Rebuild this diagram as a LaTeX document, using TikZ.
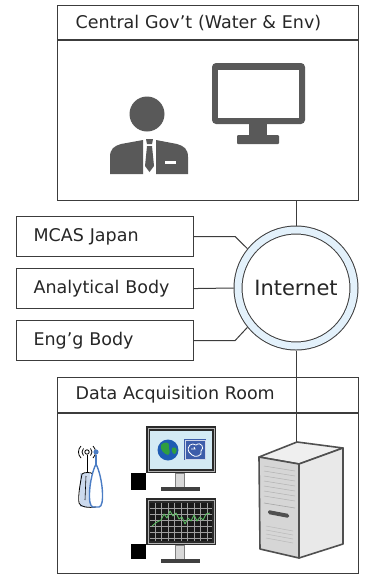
\documentclass[tikz,border=0pt]{standalone}
\usepackage{fontspec}
\setmainfont{DejaVu Sans}
\definecolor{linegray}{HTML}{3C3C3C}
\definecolor{textgray}{HTML}{262626}
\definecolor{ringblue}{HTML}{E3F1FB}
\definecolor{icongray}{HTML}{595959}
\definecolor{framedark}{HTML}{2A2A2A}
\definecolor{screenblue}{HTML}{D3EAF4}
\definecolor{globeblue}{HTML}{1E5CB3}
\definecolor{globegreen}{HTML}{2F9E3F}
\definecolor{tileblue}{HTML}{3D5DAA}
\definecolor{standgray}{HTML}{D8D8D8}
\definecolor{plotgreen}{HTML}{5DBB63}
\definecolor{antblue}{HTML}{4A7CC4}
\definecolor{antback}{HTML}{CCDAEE}
\definecolor{towertop}{HTML}{EFEFEF}
\definecolor{towerfront}{HTML}{D6D6D6}
\definecolor{towerside}{HTML}{E9E9E9}
\definecolor{toweredge}{HTML}{505050}
\begin{document}
\begin{tikzpicture}[x=1pt,y=-1pt,
  txt/.style={text=textgray,font=\fontsize{17.5}{21}\selectfont},
  headbox/.style={draw=linegray,line width=1.2pt,minimum width=301pt,minimum height=34pt,
     inner xsep=18pt,inner ysep=0pt,text width=265pt,align=left,anchor=north west,txt},
  bodybox/.style={draw=linegray,line width=1.2pt,minimum width=301pt,anchor=north west,inner sep=0pt},
  sidebox/.style={draw=linegray,line width=1.1pt,minimum width=177pt,minimum height=40pt,
     inner xsep=17pt,inner ysep=0pt,text width=143pt,align=left,anchor=north west,txt},
  wire/.style={draw=linegray,line width=1pt},
  cloud/.style={circle,draw=linegray,line width=1pt,double=ringblue,double distance=7pt,
     minimum size=116pt,inner sep=0pt,outer sep=4.5pt,text=textgray,font=\fontsize{21}{25}\selectfont}
]
\useasboundingbox (0,0) rectangle (366,574);

% ---------- central government office ----------
\node[headbox] (govhead) at (57,5) {Central Gov’t (Water \& Env)};
\node[bodybox,minimum height=160pt] (gov) at (govhead.south west) {};

% officer
\begin{scope}[fill=icongray]
  \fill (147,114) circle (17.5);
  \fill (143,140) -- (143,174) -- (110,174) -- (110,157) .. controls (110,149) and (114,146) .. (121,144) -- cycle;
  \fill (156,140) -- (156,174) -- (188,174) -- (188,157) .. controls (188,149) and (184,146) .. (177,144) -- cycle;
  \fill (146,139) -- (153,139) -- (152,144) -- (147,144) -- cycle;
  \fill (147,146) -- (152,146) -- (154,166) -- (149.5,172) -- (145,166) -- cycle;
\end{scope}
\fill[white] (165,160.5) rectangle (176,163.5);

% desktop display
\fill[icongray,rounded corners=4pt] (212,63) rectangle (305,124);
\fill[white] (218,70) rectangle (299,118);
\fill[icongray] (249,123) rectangle (267,136);
\fill[icongray,rounded corners=1pt] (237,135) rectangle (279,144);

% ---------- network ----------
\node[cloud] (net) at (296,288) {Internet};

\node[sidebox] (mcas) at (16,216) {MCAS Japan};
\node[sidebox] (ana)  at (16,268) {Analytical Body};
\node[sidebox] (eng)  at (16,320) {Eng’g Body};

\draw[wire] (mcas.east) -- ++(41,0) -- (net.141);
\draw[wire] (ana.east) -- (net.west);
\draw[wire] (eng.east) -- ++(41,0) -- (net.-141);

% ---------- data acquisition room ----------
\node[headbox,minimum height=35pt] (roomhead) at (57,377) {Data Acquisition Room};
\node[bodybox,minimum height=160pt] (room) at (roomhead.south west) {};

\coordinate (srvtop) at (296,442);
\draw[wire] (net.north |- gov.south) -- (net.north);
\draw[wire] (net.south) -- (srvtop);

% server tower
\begin{scope}[draw=toweredge,line width=1.6pt,line join=round]
  \filldraw[fill=towertop] (259,457) -- (297,442) -- (343,448) -- (299,464) -- cycle;
  \filldraw[fill=towerfront] (259,457) -- (299,464) -- (299,558) -- (260,549) -- cycle;
  \filldraw[fill=towerside] (299,464) -- (343,448) -- (343,544) -- (299,558) -- cycle;
\end{scope}
\foreach \k in {0,...,6}
  \draw[gray!60,line width=0.5pt] (264,{466+5*\k}) -- (295,{471+5*\k});
\draw[gray!70,line width=0.6pt] (264,503) -- (295,508);
\fill[toweredge,rounded corners=1.5pt] (268,510) -- (289,514) -- (289,518) -- (268,514) -- cycle;
\foreach \k in {0,...,3}
  \draw[gray!55,line width=0.5pt] (266,{526+4*\k}) -- (293,{531+4*\k});

% workstation with globe
\fill[framedark] (146,426) rectangle (216,473);
\draw[gray!60,line width=0.6pt] (148,428) rectangle (214,471);
\fill[screenblue] (150,431) rectangle (212,469);
\fill[globeblue] (168,450) circle (10.5);
\fill[globegreen] (161,445) .. controls (164,441) and (170,442) .. (169,446) .. controls (168,450) and (172,452) .. (168,455) .. controls (164,454) and (160,450) .. cycle;
\fill[globegreen] (172,448) .. controls (175,446) and (178,449) .. (176,453) .. controls (174,456) and (171,452) .. cycle;
\fill[tileblue] (184,439) rectangle (206,460);
\draw[white!75!tileblue,line width=0.6pt] (185,440) rectangle (205,459);
\draw[white,line width=0.8pt] (189,452) .. controls (186,446) and (192,442) .. (196,445)
  .. controls (201,441) and (205,448) .. (201,451) .. controls (203,456) and (195,458) .. (192,455) -- cycle;
\draw[white,line width=0.8pt] (191,449) -- (195,449) -- (194,447);
\filldraw[fill=standgray,draw=gray,line width=0.5pt] (175,473) rectangle (184,487);
\fill[darkgray] (161,487) rectangle (200,491);
\fill[black] (131,473) rectangle (146,490);

% workstation with trend plot
\fill[framedark] (146,498) rectangle (216,545);
\draw[gray!60,line width=0.6pt] (148,500) rectangle (214,543);
\fill[black!90] (150,503) rectangle (212,541);
\foreach \gx in {155,161.5,...,208}
  \draw[gray!75,line width=0.5pt] (\gx,503) -- (\gx,541);
\foreach \gy in {508,514,...,538}
  \draw[gray!75,line width=0.5pt] (150,\gy) -- (212,\gy);
\draw[plotgreen,line width=0.9pt,line join=round] (152,526) -- (157,522) -- (161,520) -- (164,514) -- (167,518)
  -- (170,511) -- (173,516) -- (176,513) -- (179,519) -- (182,517) -- (185,524) -- (188,518) -- (191,521)
  -- (194,515) -- (197,521) -- (200,517) -- (203,520) -- (206,514) -- (210,513);
\filldraw[fill=standgray,draw=gray,line width=0.5pt] (175,545) rectangle (184,559);
\fill[darkgray] (161,559) rectangle (200,563);
\fill[black] (131,544) rectangle (146,559);

% wireless data logger
\fill[antback] (80,473) rectangle (90,507);
\draw[black,line width=0.8pt] (87,455) -- (87,472);
\draw[black,line width=0.8pt] (87,452) circle (2.2);
\foreach \r in {5,8.5} {
  \draw[black,line width=0.8pt] ([shift={(135:\r)}]87,452) arc[start angle=135,end angle=225,radius=\r];
  \draw[black,line width=0.8pt] ([shift={(45:\r)}]87,452) arc[start angle=45,end angle=-45,radius=\r];
}
\draw[black,line width=0.8pt] (82,474) .. controls (84,472) and (91,472) .. (93,474)
  (82,474) .. controls (80,485) and (78,495) .. (79,503) .. controls (80,507) and (88,508) .. (96,507);
\draw[black,line width=0.6pt] (86,476) -- (85,500);
\draw[antblue,line width=1.2pt] (96,455) -- (96,466);
\fill[antblue] (96,452) circle (2.6);
\draw[antblue,line width=1.4pt] (96,464) .. controls (89,478) and (87,507) .. (93,507) -- (99,507)
  .. controls (105,507) and (103,478) .. (96,464);
\end{tikzpicture}
\end{document}
